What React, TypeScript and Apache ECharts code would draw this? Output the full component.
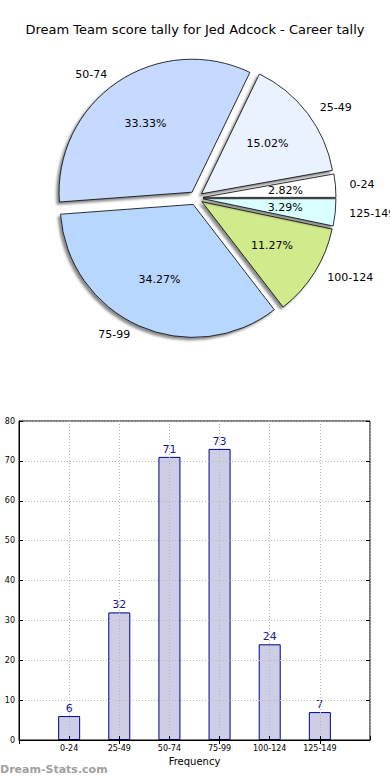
import React, { useEffect, useRef } from "react";
import * as echarts from "echarts";

const titleText = "Dream Team score tally for Jed Adcock - Career tally";
const categories = ["0-24", "25-49", "50-74", "75-99", "100-124", "125-149"];
const frequencies = [6, 32, 71, 73, 24, 7];
const sliceColors = ["#ffffff", "#eaf1ff", "#c6d9ff", "#b7d7ff", "#d0ea8c", "#d9ffff"];
const yTicks = { min: 0, max: 80, interval: 10 };
const xAxisName = "Frequency";
const watermark = "Dream-Stats.com";

const FONT = "DejaVu Sans";

export default function App() {
  const ref = useRef<HTMLDivElement>(null);

  useEffect(() => {
    document.body.style.margin = "0";
    if (!ref.current) return;
    const chart = echarts.init(ref.current, undefined, { renderer: "svg" });
    const total = frequencies.reduce((a, b) => a + b, 0);
    const R = 133;
    const center = [196, 198];
    const offset = 7;

    const pieData = categories.map((name, i) => ({
      name,
      value: frequencies[i],
      selected: true,
      itemStyle: { color: sliceColors[i] },
    }));

    const baseItem = {
      borderColor: "#000",
      borderWidth: 0.8,
      shadowBlur: 2,
      shadowColor: "rgba(0,0,0,0.45)",
      shadowOffsetX: -2.5,
      shadowOffsetY: 2.5,
    };

    const padded = ["", ...categories, ""];
    const paddedVals = [null, ...frequencies, null];

    const option: any = {
      animation: false,
      backgroundColor: "#ffffff",
      textStyle: { fontFamily: FONT },
      title: {
        text: titleText,
        left: "center",
        top: 18,
        textStyle: { fontFamily: FONT, fontSize: 13, fontWeight: "normal", color: "#000" },
      },
      graphic: [
        {
          type: "text",
          left: 0,
          top: 764,
          style: {
            text: watermark,
            fontFamily: FONT,
            fontSize: 11,
            fontWeight: "bold",
            fill: "#a0a0a0",
          },
        },
      ],
      grid: {
        left: 19,
        right: 20,
        top: 421,
        bottom: 40,
        show: true,
        borderColor: "#000",
        borderWidth: 1,
        backgroundColor: "transparent",
      },
      xAxis: [
        {
          type: "category",
          data: padded,
          boundaryGap: false,
          position: "bottom",
          axisLine: { show: true, lineStyle: { color: "#000", width: 1 } },
          axisTick: { show: true, inside: true, length: 4, lineStyle: { color: "#000" } },
          axisLabel: { fontSize: 8, color: "#000", fontFamily: FONT, margin: 4, interval: 0 },
          splitLine: { show: true, lineStyle: { color: "#b8b8b8", type: [1, 2], width: 1 } },
          name: xAxisName,
          nameLocation: "middle",
          nameGap: 16,
          nameTextStyle: { fontSize: 10, color: "#000", fontFamily: FONT },
        },
        {
          type: "category",
          data: padded,
          boundaryGap: false,
          position: "top",
          axisLine: { show: false },
          axisTick: { show: true, inside: true, length: 4, lineStyle: { color: "#000" } },
          axisLabel: { show: false },
          splitLine: { show: false },
        },
      ],
      yAxis: [
        {
          type: "value",
          min: yTicks.min,
          max: yTicks.max,
          interval: yTicks.interval,
          axisLine: { show: true, lineStyle: { color: "#000", width: 1 } },
          axisTick: { show: true, inside: true, length: 4, lineStyle: { color: "#000" } },
          axisLabel: { fontSize: 8, color: "#000", fontFamily: FONT, margin: 4 },
          splitLine: { show: true, lineStyle: { color: "#b8b8b8", type: [1, 2], width: 1 } },
        },
        {
          type: "value",
          position: "right",
          min: yTicks.min,
          max: yTicks.max,
          interval: yTicks.interval,
          axisLine: { show: false },
          axisTick: { show: true, inside: true, length: 4, lineStyle: { color: "#000" } },
          axisLabel: { show: false },
          splitLine: { show: false },
        },
      ],
      series: [
        {
          type: "pie",
          center,
          radius: R,
          startAngle: 0,
          clockwise: false,
          selectedMode: "multiple",
          selectedOffset: offset,
          avoidLabelOverlap: false,
          silent: true,
          data: pieData,
          itemStyle: baseItem,
          select: { itemStyle: baseItem, label: { color: "#000" } },
          label: {
            show: true,
            position: "outside",
            formatter: "{b}",
            fontFamily: FONT,
            fontSize: 11,
            color: "#000",
            distanceToLabelLine: 5,
            overflow: "none",
          },
          labelLine: { show: false, length: 9, length2: 0 },
          z: 2,
        },
        {
          type: "pie",
          center,
          radius: R * 1.2,
          startAngle: 0,
          clockwise: false,
          selectedMode: "multiple",
          selectedOffset: offset,
          avoidLabelOverlap: false,
          silent: true,
          data: categories.map((name, i) => ({
            name,
            value: frequencies[i],
            selected: true,
          })),
          itemStyle: { color: "transparent", borderWidth: 0 },
          select: { itemStyle: { color: "transparent", borderWidth: 0 } },
          label: {
            show: true,
            position: "inside",
            formatter: (p: any) => ((p.value / total) * 100).toFixed(2) + "%",
            fontFamily: FONT,
            fontSize: 11,
            color: "#000",
          },
          labelLine: { show: false },
          z: 3,
        },
        {
          type: "bar",
          xAxisIndex: 0,
          yAxisIndex: 0,
          data: paddedVals,
          barWidth: 22,
          itemStyle: { color: "#cdcde6", borderColor: "#00008b", borderWidth: 1 },
          label: {
            show: true,
            position: "top",
            distance: 2,
            fontFamily: FONT,
            fontSize: 11,
            color: "#1a1a8c",
          },
          z: -1,
        },
      ],
    };

    chart.setOption(option);
    return () => chart.dispose();
  }, []);

  return (
    <div
      ref={ref}
      style={{ position: "absolute", left: 0, top: 0, width: 390, height: 780, overflow: "hidden" }}
    />
  );
}
